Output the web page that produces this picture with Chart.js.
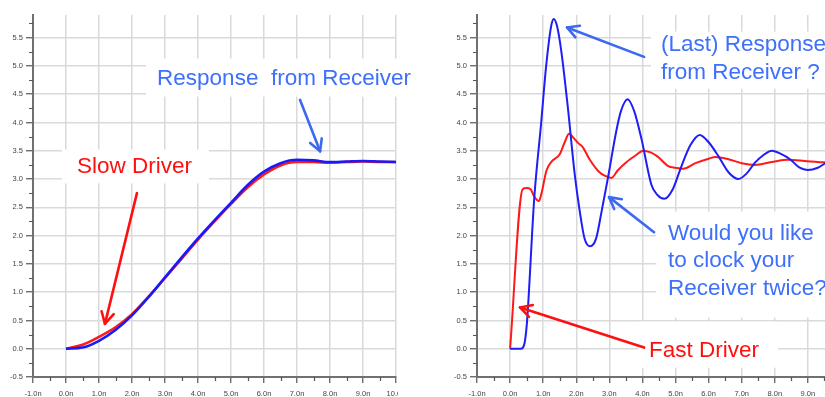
<!DOCTYPE html>
<html><head><meta charset="utf-8">
<script src="https://cdn.jsdelivr.net/npm/chart.js@4.4.1/dist/chart.umd.min.js"></script>
<style>
html,body{margin:0;padding:0;background:#fff;overflow:hidden;width:825px;height:397px;}
#wrapL{position:absolute;left:0;top:0;width:420px;height:397px;}
#wrapR{position:absolute;left:420px;top:0;width:440px;height:397px;}
canvas{display:block;}
</style></head><body>
<div id="wrapL"><canvas id="cL" width="420" height="397"></canvas></div>
<div id="wrapR"><canvas id="cR" width="440" height="397"></canvas></div>
<script>
// ---- tick values / labels ----
const xTickValues = [-1,0,1,2,3,4,5,6,7,8,9,10];
const xTickLabels = ['-1.0n','0.0n','1.0n','2.0n','3.0n','4.0n','5.0n','6.0n','7.0n','8.0n','9.0n','10.0n'];
const xMinorTicks = [-0.5,0.5,1.5,2.5,3.5,4.5,5.5,6.5,7.5,8.5,9.5];
const yTickValues = [-0.5,0,0.5,1,1.5,2,2.5,3,3.5,4,4.5,5,5.5];
const yTickLabels = ['-0.5','0.0','0.5','1.0','1.5','2.0','2.5','3.0','3.5','4.0','4.5','5.0','5.5'];
const yMinorTicks = [-0.25,0.25,0.75,1.25,1.75,2.25,2.75,3.25,3.75,4.25,4.75,5.25,5.75];

// ---- left panel: slow driver ----
const slowTime     = [0, 0.5, 1, 1.5, 2, 2.5, 3, 3.5, 4, 4.5, 5, 5.5, 6, 6.5, 7, 7.5, 8, 8.5, 9, 9.5, 10];
const slowDriver   = [0, 0.07, 0.21, 0.38, 0.61, 0.92, 1.25, 1.59, 1.93, 2.25, 2.56, 2.85, 3.08, 3.24, 3.3, 3.3, 3.29, 3.3, 3.31, 3.3, 3.3];
const slowReceiver = [0, 0.02, 0.14, 0.33, 0.59, 0.91, 1.26, 1.61, 1.95, 2.27, 2.58, 2.89, 3.13, 3.28, 3.34, 3.33, 3.3, 3.31, 3.32, 3.31, 3.3];

// ---- right panel: fast driver ----
const fastDriverTime = [0, 0.38, 0.5, 0.62, 0.72, 0.87, 0.95, 1.1, 1.24, 1.5, 1.65, 1.78, 1.9, 2.05, 2.2, 2.4, 2.7, 2.9, 3.06, 3.25, 3.52, 3.8, 4.02, 4.25, 4.45, 4.78, 5.0, 5.23, 5.6, 6.0, 6.2, 6.6, 7.0, 7.4, 7.9, 8.4, 8.9, 9.3, 9.6, 10];
const fastDriver     = [0, 2.82, 2.84, 2.82, 2.7, 2.61, 2.75, 3.15, 3.3, 3.44, 3.65, 3.8, 3.74, 3.64, 3.56, 3.35, 3.12, 3.05, 3.02, 3.15, 3.3, 3.42, 3.5, 3.47, 3.4, 3.23, 3.2, 3.18, 3.28, 3.36, 3.39, 3.35, 3.28, 3.25, 3.3, 3.34, 3.32, 3.3, 3.29, 3.27];
const fastReceiverTime = [0, 0.33, 0.4, 0.45, 0.51, 0.73, 0.94, 1.09, 1.24, 1.32, 1.42, 1.55, 1.75, 1.95, 2.1, 2.25, 2.42, 2.6, 2.76, 2.96, 3.21, 3.35, 3.55, 3.75, 3.97, 4.27, 4.45, 4.66, 4.9, 5.18, 5.45, 5.73, 6.0, 6.29, 6.6, 6.9, 7.15, 7.4, 7.65, 7.91, 8.2, 8.46, 8.75, 8.99, 9.3, 9.58, 10];
const fastReceiver     = [0, 0, 0.03, 0.14, 0.46, 2.66, 4.0, 5.0, 5.7, 5.83, 5.7, 5.25, 4.24, 3.1, 2.45, 1.95, 1.81, 1.95, 2.41, 3.03, 3.85, 4.2, 4.41, 4.2, 3.71, 2.9, 2.72, 2.65, 2.8, 3.23, 3.6, 3.78, 3.65, 3.41, 3.12, 3.0, 3.1, 3.29, 3.42, 3.5, 3.44, 3.35, 3.2, 3.16, 3.2, 3.3, 3.42];

// ---- annotations (data units) ----
const RED = '#ff1010', BLUE_TXT = 'rgb(62,112,250)', BLUE_ARROW = 'rgb(60,105,240)';
const leftNotes = [
  {lines:['Slow Driver'], x:0.33, y:3.10, color:RED, pad:[8,17,5,15]},
  {lines:['Response  from Receiver'], x:2.76, y:4.67, color:BLUE_TXT, pad:[10,11,7,11]}
];
const leftArrows = [
  {from:[2.15,2.75], to:[1.18,0.44], color:RED},
  {from:[7.09,4.40], to:[7.70,3.49], color:BLUE_ARROW}
];
const rightNotes = [
  {lines:['(Last) Response','from Receiver ?'], x:4.56, y:5.27, lh:28, color:BLUE_TXT, pad:[3,60,5,10]},
  {lines:['Would you like','to clock your','Receiver twice?'], x:4.77, y:1.93, lh:27.5, color:BLUE_TXT, pad:[12,40,18,12]},
  {lines:['Fast Driver'], x:4.2, y:-0.14, color:RED, pad:[19,19,6,11]}
];
const rightArrows = [
  {from:[4.05,5.16], to:[1.72,5.68], color:BLUE_ARROW},
  {from:[4.35,2.06], to:[2.99,2.68], color:BLUE_ARROW},
  {from:[4.05,0.02], to:[0.30,0.73], color:RED}
];

const FONT = '"Liberation Sans", Arial, sans-serif';
const NOTE_FONT = '22.5px ' + FONT;

function pts(t, v){ return t.map((x,i)=>({x:x, y:v[i]})); }

function notesPlugin(notes, arrows, clipX){
  function box(chart, n){
    const ctx = chart.ctx, sx = chart.scales.x, sy = chart.scales.y;
    ctx.font = NOTE_FONT;
    const lh = n.lh || 27;
    let w = 0; n.lines.forEach(l=>{ w = Math.max(w, ctx.measureText(l).width); });
    const x0 = sx.getPixelForValue(n.x), b0 = sy.getPixelForValue(n.y);
    return {x0, b0, lh, left:x0-n.pad[3], right:x0+w+n.pad[1], top:b0-16-n.pad[0], bottom:b0+(n.lines.length-1)*lh+5+n.pad[2]};
  }
  return {
    id:'notes',
    beforeDatasetsDraw(chart){
      const ctx = chart.ctx; ctx.save(); ctx.fillStyle = '#fff';
      notes.forEach(n=>{ const b = box(chart,n); ctx.fillRect(b.left,b.top,b.right-b.left,b.bottom-b.top); });
      ctx.restore();
    },
    afterDraw(chart){
      const ctx = chart.ctx, sx = chart.scales.x, sy = chart.scales.y;
      ctx.save();
      if (clipX) { ctx.clearRect(chart.chartArea.right+1.5, chart.chartArea.bottom+2, 200, 100); }
      arrows.forEach(a=>{
        const x1 = sx.getPixelForValue(a.from[0]), y1 = sy.getPixelForValue(a.from[1]);
        const x2 = sx.getPixelForValue(a.to[0]), y2 = sy.getPixelForValue(a.to[1]);
        const ang = Math.atan2(y2-y1, x2-x1), L = 13, sp = 0.5;
        ctx.strokeStyle = a.color; ctx.lineWidth = 2.6; ctx.lineCap = 'round'; ctx.lineJoin = 'round';
        ctx.beginPath(); ctx.moveTo(x1,y1); ctx.lineTo(x2,y2); ctx.stroke();
        ctx.beginPath();
        ctx.moveTo(x2 - L*Math.cos(ang-sp), y2 - L*Math.sin(ang-sp));
        ctx.lineTo(x2, y2);
        ctx.lineTo(x2 - L*Math.cos(ang+sp), y2 - L*Math.sin(ang+sp));
        ctx.stroke();
      });
      notes.forEach(n=>{
        const b = box(chart,n);
        ctx.font = NOTE_FONT; ctx.fillStyle = n.color; ctx.textBaseline = 'alphabetic'; ctx.textAlign = 'left';
        n.lines.forEach((l,i)=> ctx.fillText(l, b.x0, b.b0 + i*b.lh));
      });
      ctx.restore();
    }
  };
}

const minorTicksPlugin = {
  id:'minorTicks',
  afterDraw(chart){
    const ctx = chart.ctx, a = chart.chartArea, sx = chart.scales.x, sy = chart.scales.y;
    ctx.save(); ctx.strokeStyle = '#555'; ctx.lineWidth = 1.2;
    ctx.beginPath();
    yMinorTicks.forEach(v=>{ const y = Math.round(sy.getPixelForValue(v))+0.5; ctx.moveTo(a.left-4, y); ctx.lineTo(a.left, y); });
    xMinorTicks.forEach(v=>{ const x = Math.round(sx.getPixelForValue(v))+0.5; ctx.moveTo(x, a.bottom); ctx.lineTo(x, a.bottom+4); });
    ctx.stroke(); ctx.restore();
  }
};

function makeOptions(yWidth, padRight){
  return {
    responsive:false, animation:false, devicePixelRatio:1,
    layout:{padding:{top:15, right:padRight, left:0, bottom:0}},
    plugins:{legend:{display:false}, tooltip:{enabled:false}},
    elements:{point:{radius:0}},
    scales:{
      x:{type:'linear', min:-1, max:10,
        afterBuildTicks:s=>{ s.ticks = xTickValues.map(v=>({value:v})); },
        ticks:{autoSkip:false, maxRotation:0, padding:6, color:'#444', font:{family:FONT, size:7.5},
          callback:v=> xTickLabels[xTickValues.indexOf(v)]},
        grid:{color:'#dadada', lineWidth:1.5, tickLength:6, tickColor:'#555', tickWidth:1.2},
        border:{display:true, color:'#707070', width:2},
        afterFit:s=>{ s.height = 20; s.paddingLeft = 0; s.paddingRight = 0; }
      },
      y:{type:'linear', min:-0.5, max:5.9,
        afterBuildTicks:s=>{ s.ticks = yTickValues.map(v=>({value:v})); },
        ticks:{autoSkip:false, padding:3, color:'#444', font:{family:FONT, size:7.5},
          callback:v=> yTickLabels[yTickValues.indexOf(v)]},
        grid:{color:'#dadada', lineWidth:1.5, tickLength:7, tickColor:'#555', tickWidth:1.2},
        border:{display:true, color:'#707070', width:2},
        afterFit:s=>{ s.width = yWidth; s.paddingTop = 0; s.paddingBottom = 0; }
      }
    }
  };
}

new Chart(document.getElementById('cL'), {
  type:'line',
  data:{datasets:[
    {label:'Response from Receiver', data:pts(slowTime, slowReceiver), borderColor:'rgb(25,25,250)', borderWidth:2.6, cubicInterpolationMode:'monotone', fill:false},
    {label:'Slow Driver', data:pts(slowTime, slowDriver), borderColor:'rgb(255,25,25)', borderWidth:2.6, cubicInterpolationMode:'monotone', fill:false}
  ]},
  options:makeOptions(33, 24),
  plugins:[minorTicksPlugin, notesPlugin(leftNotes, leftArrows, true)]
});

new Chart(document.getElementById('cR'), {
  type:'line',
  data:{datasets:[
    {label:'Response from Receiver', data:pts(fastReceiverTime, fastReceiver), borderColor:'rgb(30,30,245)', borderWidth:2, cubicInterpolationMode:'monotone', fill:false},
    {label:'Fast Driver', data:pts(fastDriverTime, fastDriver), borderColor:'rgb(255,25,25)', borderWidth:2, cubicInterpolationMode:'monotone', fill:false}
  ]},
  options:makeOptions(57, 19),
  plugins:[minorTicksPlugin, notesPlugin(rightNotes, rightArrows, false)]
});
</script>
</body></html>
